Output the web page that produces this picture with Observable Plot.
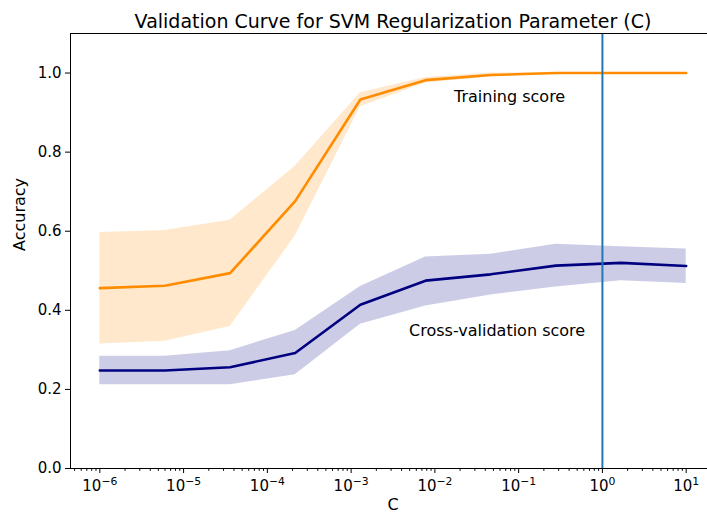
<!DOCTYPE html>
<html>
<head>
<meta charset="utf-8">
<script src="https://cdn.jsdelivr.net/npm/d3@7"></script>
<script src="https://cdn.jsdelivr.net/npm/@observablehq/plot@0.6"></script>
<style>
  html, body { margin: 0; padding: 0; background: #fff; overflow: hidden; }
  #chart svg { display: block; max-width: none !important; }
</style>
</head>
<body>
<div id="chart"></div>
<script>
// C parameter grid (log spaced)
const cValues = [1e-6, 5.99e-6, 3.59e-5, 2.15e-4, 1.29e-3, 7.74e-3, 4.64e-2, 2.78e-1, 1.67, 10];

// Training score: mean and ±std band
const trainMean = [0.456, 0.462, 0.494, 0.676, 0.933, 0.982, 0.995, 1.0, 1.0, 1.0];
const trainLow  = [0.315, 0.322, 0.359, 0.588, 0.915, 0.975, 0.990, 0.999, 0.999, 0.999];
const trainHigh = [0.597, 0.602, 0.628, 0.764, 0.950, 0.989, 1.0, 1.001, 1.001, 1.001];

// Cross-validation score: mean and ±std band
const cvMean = [0.248, 0.248, 0.256, 0.292, 0.414, 0.475, 0.491, 0.513, 0.520, 0.512];
const cvLow  = [0.212, 0.212, 0.212, 0.237, 0.365, 0.411, 0.439, 0.459, 0.475, 0.468];
const cvHigh = [0.284, 0.284, 0.298, 0.349, 0.460, 0.535, 0.542, 0.567, 0.561, 0.555];

// Selected C
const chosenC = [1];

// Tick labels
const yTicks = [0, 0.2, 0.4, 0.6, 0.8, 1.0];
const xTickExps = [-6, -5, -4, -3, -2, -1, 0, 1];
const xTickBase = "10";
const xTickSup = ["−6", "−5", "−4", "−3", "−2", "−1", "0", "1"];

// Annotations
const annotations = [
  {x: 0.078, y: 0.94, text: "Training score"},
  {x: 0.0553, y: 0.349, text: "Cross-validation score"}
];
const titleText = "Validation Curve for SVM Regularization Parameter (C)";
const xLabel = "C";
const yLabel = "Accuracy";

const train = cValues.map((c, i) => ({c, mean: trainMean[i], lo: trainLow[i], hi: trainHigh[i]}));
const cv = cValues.map((c, i) => ({c, mean: cvMean[i], lo: cvLow[i], hi: cvHigh[i]}));

const majorTicks = xTickExps.map(e => Math.pow(10, e));
const minorTicks = [];
for (let e = -7; e <= 1; e++) {
  for (let m = 2; m <= 9; m++) {
    const v = m * Math.pow(10, e);
    if (v > Math.pow(10, -6.35) && v < Math.pow(10, 1.35)) minorTicks.push(v);
  }
}
const fmtX = d => {
  const e = Math.round(Math.log10(d));
  const i = xTickExps.indexOf(e);
  return i >= 0 ? xTickBase + "^" + xTickSup[i] : "";
};

const chart = Plot.plot({
  width: 720,
  height: 516,
  marginTop: 33,
  marginBottom: 48,
  marginLeft: 70,
  marginRight: 5,
  style: {fontFamily: "DejaVu Sans", fontSize: "15px", color: "black", background: "white"},
  x: {type: "log", domain: [Math.pow(10, -6.35), Math.pow(10, 1.35)]},
  y: {domain: [0, 1.1]},
  marks: [
    Plot.areaY(train, {x: "c", y1: "lo", y2: "hi", fill: "darkorange", fillOpacity: 0.2}),
    Plot.areaY(cv, {x: "c", y1: "lo", y2: "hi", fill: "navy", fillOpacity: 0.2}),
    Plot.lineY(train, {x: "c", y: "mean", stroke: "darkorange", strokeWidth: 2.6}),
    Plot.lineY(cv, {x: "c", y: "mean", stroke: "navy", strokeWidth: 2.6}),
    Plot.ruleX(chosenC, {stroke: "#1f77b4", strokeWidth: 2}),
    Plot.frame({stroke: "black", strokeWidth: 1}),
    Plot.axisY({ticks: yTicks, tickFormat: d => d.toFixed(1), tickSize: 5, tickPadding: 4, label: null, fontSize: 15}),
    Plot.axisX({ticks: minorTicks, tickFormat: () => "", tickSize: 2.8, label: null}),
    Plot.axisX({ticks: majorTicks, tickFormat: fmtX, tickSize: 5, tickPadding: 7, label: null, fontSize: 15, ariaLabel: "x-major"}),
    Plot.text(annotations, {x: "x", y: "y", text: "text", fontSize: 16, fill: "black"}),
    Plot.text([titleText], {frameAnchor: "top", dy: -19, fontSize: 19, fill: "black"}),
    Plot.text([xLabel], {frameAnchor: "bottom", dy: 41, fontSize: 16, fill: "black"}),
    Plot.text([yLabel], {frameAnchor: "left", dx: -51, rotate: -90, fontSize: 16, fill: "black"})
  ]
});

// Render exponent as a raised, smaller tspan (like mathtext 10^{-6})
d3.select(chart).selectAll("text").each(function() {
  const t = d3.select(this);
  const s = t.text();
  if (s.startsWith(xTickBase + "^")) {
    const sup = s.slice(xTickBase.length + 1);
    t.text(null);
    t.append("tspan").text(xTickBase);
    t.append("tspan").attr("font-size", "0.72em").attr("dy", "-0.55em").text(sup);
  }
});

document.getElementById("chart").appendChild(chart);
</script>
</body>
</html>
